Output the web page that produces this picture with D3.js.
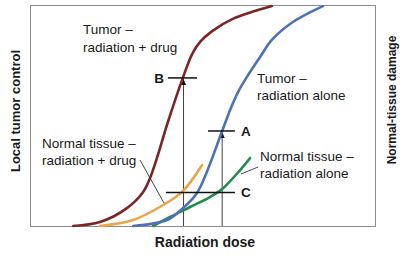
<!DOCTYPE html>
<html>
<head>
<meta charset="utf-8">
<script src="https://cdn.jsdelivr.net/npm/d3@7"></script>
<style>
  body { margin: 0; background: #fff; }
  text { font-family: "Liberation Sans", Arial, sans-serif; fill: #1a1a1a; }
</style>
</head>
<body>
<svg id="chart" width="400" height="255"></svg>
<script>
// dose (0-100) vs response (0-100)
const tumorDrugDose = [12.5, 20.3, 28.1, 32.8, 34.8, 36.8, 39.7, 44.3, 47.0, 49.3, 52.8, 58.8, 70.1];
const tumorDrugResp = [0, 1.8, 8.1, 15.4, 21.7, 30.8, 45.7, 67.0, 77.8, 83.3, 88.2, 93.7, 99.5];

const tumorAloneDose = [29.9, 39.7, 44.3, 48.4, 55.7, 58.0, 60.3, 63.2, 66.7, 70.1, 76.2, 84.9];
const tumorAloneResp = [0, 2.7, 8.1, 14.9, 43.0, 52.5, 60.6, 68.3, 76.5, 84.2, 92.3, 99.5];

const normalDrugDose = [20.3, 29.9, 38.6, 44.3, 49.9];
const normalDrugResp = [0, 2.7, 9.5, 15.8, 27.6];

const normalAloneDose = [35.7, 40.6, 46.4, 52.2, 55.7, 60.9, 63.8];
const normalAloneResp = [0, 4.1, 8.6, 13.1, 16.7, 25.3, 30.8];

// marker lines: label, dose of vertical line, level, horizontal extent
const markerLabels = ['B', 'A', 'C'];
const markerDose = [44.5, 55.7, null];
const markerLevel = [67, 43, 15.2];
const markerFrom = [40.0, 51.6, 39.4];
const markerTo = [48.4, 59.4, 59.4];

const svg = d3.select('#chart');
const plotLeft = 30, plotRight = 375, plotTop = 5, plotBottom = 226;

const x = d3.scaleLinear().domain([0, 100]).range([plotLeft, plotRight]);
const y = d3.scaleLinear().domain([0, 100]).range([plotBottom, plotTop]);

// frame
svg.append('rect')
  .attr('x', plotLeft + 0.5).attr('y', plotTop + 0.5)
  .attr('width', plotRight - plotLeft).attr('height', plotBottom - plotTop)
  .attr('fill', 'none').attr('stroke', '#8c8c8c').attr('stroke-width', 1);

// vertical dose lines with arrowheads
markerDose.forEach((d, i) => {
  if (d === null) return;
  const tipY = y(markerLevel[i]) + 1;
  svg.append('line')
    .attr('x1', x(d)).attr('x2', x(d))
    .attr('y1', y(0)).attr('y2', tipY)
    .attr('stroke', '#444').attr('stroke-width', 1);
  svg.append('path')
    .attr('d', `M${x(d) - 2.5},${tipY + 6} L${x(d)},${tipY} L${x(d) + 2.5},${tipY + 6} Z`)
    .attr('fill', '#111');
});

const line = (xs, ys) => d3.line()
  .x((d, i) => x(xs[i]))
  .y((d, i) => y(ys[i]))
  .curve(d3.curveCatmullRom.alpha(0.5))(xs);

const series = [
  [normalDrugDose, normalDrugResp, '#eaa64c'],
  [normalAloneDose, normalAloneResp, '#21894b'],
  [tumorAloneDose, tumorAloneResp, '#4d72b3'],
  [tumorDrugDose, tumorDrugResp, '#7a2626']
];

series.forEach(([xs, ys, c]) => {
  svg.append('path')
    .attr('d', line(xs, ys))
    .attr('fill', 'none')
    .attr('stroke', c)
    .attr('stroke-width', 2.6)
    .attr('stroke-linecap', 'round');
});

// horizontal marker lines and letters
markerLabels.forEach((lab, i) => {
  svg.append('line')
    .attr('x1', x(markerFrom[i])).attr('x2', x(markerTo[i]))
    .attr('y1', y(markerLevel[i])).attr('y2', y(markerLevel[i]))
    .attr('stroke', '#111').attr('stroke-width', 1.5);
  const lx = lab === 'B' ? x(markerFrom[i]) - 4 : x(markerTo[i]) + 6;
  svg.append('text')
    .attr('x', lx).attr('y', y(markerLevel[i]) + 5)
    .attr('text-anchor', lab === 'B' ? 'end' : 'start')
    .attr('font-size', 13.5).attr('font-weight', 'bold')
    .text(lab);
});

// leader lines
svg.append('line').attr('x1', 140).attr('y1', 160).attr('x2', 164).attr('y2', 203)
  .attr('stroke', '#333').attr('stroke-width', 0.9);
svg.append('line').attr('x1', 258).attr('y1', 167).attr('x2', 241).attr('y2', 174)
  .attr('stroke', '#333').attr('stroke-width', 0.9);

// curve labels
const labels = [
  [83, 34, 'Tumor –'], [83, 52, 'radiation + drug'],
  [257, 83, 'Tumor –'], [257, 100, 'radiation alone'],
  [42, 148, 'Normal tissue –'], [42, 165, 'radiation + drug'],
  [260, 161, 'Normal tissue –'], [260, 178, 'radiation alone']
];
labels.forEach(([lx, ly, t]) => {
  svg.append('text').attr('x', lx).attr('y', ly)
    .attr('font-size', 13.5).text(t);
});

// axis titles
svg.append('text')
  .attr('x', 205).attr('y', 247)
  .attr('text-anchor', 'middle')
  .attr('font-size', 14).attr('font-weight', 'bold')
  .text('Radiation dose');

svg.append('text')
  .attr('transform', 'translate(20,111) rotate(-90)')
  .attr('text-anchor', 'middle')
  .attr('font-size', 13).attr('font-weight', 'bold')
  .text('Local tumor control');

svg.append('text')
  .attr('transform', 'translate(396,100) rotate(-90)')
  .attr('text-anchor', 'middle')
  .attr('font-size', 12).attr('font-weight', 'bold')
  .text('Normal-tissue damage');
</script>
</body>
</html>
